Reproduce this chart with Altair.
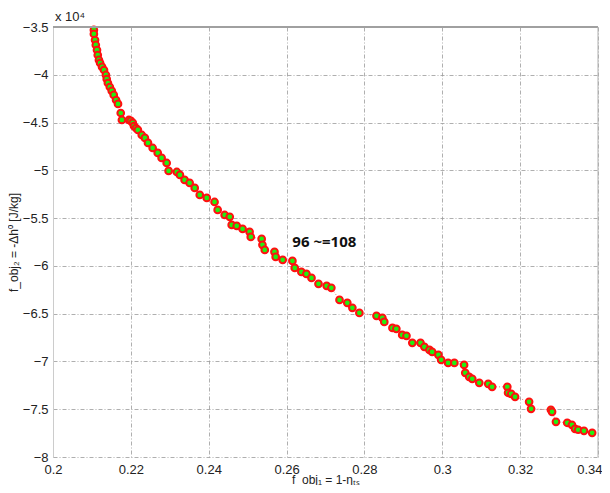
import altair as alt
import pandas as pd

# f_obj1 = 1 - eta_ts
f1 = [0.2105, 0.2105, 0.2108, 0.2110, 0.2113, 0.2115, 0.2118, 0.2121, 0.2126, 0.2131,
      0.2136, 0.2138, 0.2141, 0.2146, 0.2151, 0.2156, 0.2162, 0.2167, 0.2174, 0.2177,
      0.2195, 0.2200, 0.2205, 0.2208, 0.2213, 0.2218, 0.2228, 0.2236, 0.2244, 0.2256,
      0.2269, 0.2279, 0.2292, 0.2297, 0.2318, 0.2326, 0.2338, 0.2351, 0.2364, 0.2377,
      0.2395, 0.2415, 0.2423, 0.2441, 0.2454, 0.2459, 0.2472, 0.2487, 0.2505, 0.2508,
      0.2536, 0.2538, 0.2544, 0.2569, 0.2572, 0.2590, 0.2615, 0.2621, 0.2638, 0.2651,
      0.2664, 0.2682, 0.2703, 0.2715, 0.2736, 0.2756, 0.2769, 0.2787, 0.2831, 0.2846,
      0.2851, 0.2872, 0.2882, 0.2897, 0.2908, 0.2923, 0.2944, 0.2954, 0.2967, 0.2974,
      0.2990, 0.2997, 0.3015, 0.3031, 0.3056, 0.3059, 0.3069, 0.3077, 0.3095, 0.3118,
      0.3128, 0.3167, 0.3169, 0.3177, 0.3187, 0.3223, 0.3228, 0.3279, 0.3282, 0.3292,
      0.3321, 0.3333, 0.3341, 0.3349, 0.3364, 0.3385]
# f_obj2 = -Delta h0, in units of 1e4 J/kg
f2 = [-3.531, -3.573, -3.636, -3.688, -3.741, -3.793, -3.845, -3.877, -3.918, -3.950,
      -4.002, -4.044, -4.086, -4.128, -4.169, -4.211, -4.264, -4.305, -4.400, -4.473,
      -4.473, -4.483, -4.504, -4.536, -4.557, -4.577, -4.630, -4.661, -4.713, -4.766,
      -4.818, -4.870, -4.923, -5.006, -5.017, -5.048, -5.100, -5.132, -5.184, -5.257,
      -5.289, -5.331, -5.414, -5.467, -5.487, -5.571, -5.582, -5.613, -5.644, -5.697,
      -5.718, -5.780, -5.833, -5.854, -5.906, -5.937, -5.948, -6.021, -6.063, -6.084,
      -6.126, -6.188, -6.209, -6.230, -6.356, -6.387, -6.439, -6.492, -6.523, -6.544,
      -6.586, -6.649, -6.659, -6.722, -6.732, -6.805, -6.805, -6.847, -6.879, -6.900,
      -6.931, -6.983, -7.015, -7.015, -7.036, -7.119, -7.161, -7.182, -7.224, -7.234,
      -7.266, -7.266, -7.328, -7.339, -7.370, -7.423, -7.496, -7.506, -7.527, -7.632,
      -7.642, -7.663, -7.705, -7.715, -7.726, -7.747]

x_ticks = [0.2, 0.22, 0.24, 0.26, 0.28, 0.3, 0.32, 0.34]
y_ticks = [-3.5, -4, -4.5, -5, -5.5, -6, -6.5, -7, -7.5, -8]

annot_text = ["96 ~=108"]
annot_x = [0.2697]
annot_y = [-5.75]

df = pd.DataFrame({"f1": f1, "f2": f2, "order": list(range(len(f1)))})
ann = pd.DataFrame({"x": annot_x, "y": annot_y, "t": annot_text})

W, H = 545, 430
FONT = "Liberation Sans"

xs = alt.Scale(domain=[0.2, 0.34], nice=False, zero=False)
ys = alt.Scale(domain=[-8, -3.5], nice=False, zero=False)

last = "datum.value >= 0.339"
xax = alt.Axis(values=x_ticks, title="f_obj₁ = 1-ηₜₛ", format="~g",
               grid=True, gridColor="#9a9a9a", gridDash=[4, 2, 1, 2], gridWidth=0.8,
               domain=False, ticks=False, labelPadding=6, labelFontSize=13,
               labelAlign={"condition": {"test": last, "value": "right"}, "value": "center"},
               labelOffset={"condition": {"test": last, "value": 4}, "value": 0},
               labelFont=FONT, labelColor="#222", titleFont=FONT, titleFontSize=12,
               titleFontWeight="normal", titleColor="#222",
               titleBaseline="alphabetic", titleY=26)
yax = alt.Axis(values=y_ticks, title="f_obj₂ = -Δh⁰ [J/kg]", format="~g",
               grid=True, gridColor="#9a9a9a", gridDash=[4, 2, 1, 2], gridWidth=0.8,
               domain=True, domainColor="#cccccc", ticks=False, labelPadding=5,
               labelFontSize=13, labelFont=FONT, labelColor="#222",
               titleFont=FONT, titleFontSize=12, titleFontWeight="normal",
               titleColor="#222", titlePadding=2)

base = alt.Chart(df)

line = base.mark_line(color="#e05050", strokeWidth=1, strokeDash=[1, 2], opacity=0.8).encode(
    x=alt.X("f1:Q", scale=xs, axis=xax),
    y=alt.Y("f2:Q", scale=ys, axis=yax),
    order="order:Q",
)

pts = base.mark_point(shape="circle", filled=True, fill="#22ee11", stroke="#ff1010",
                      strokeWidth=2, size=45, fillOpacity=1, opacity=1).encode(
    x=alt.X("f1:Q", scale=xs),
    y=alt.Y("f2:Q", scale=ys),
)

text = alt.Chart(ann).mark_text(font="Open Sans", fontWeight="bold", fontSize=15,
                                color="#111").encode(
    x=alt.X("x:Q", scale=xs), y=alt.Y("y:Q", scale=ys), text="t:N")

top_rule = alt.Chart(ann).mark_rule(color="#a0a0a0", strokeWidth=2).encode(
    x=alt.value(0), x2=alt.value(W), y=alt.value(0))
right_rule = alt.Chart(ann).mark_rule(color="#b0b0b0", strokeWidth=1).encode(
    x=alt.value(W), y=alt.value(0), y2=alt.value(H))

exp_text = alt.Chart(ann).mark_text(text="x 10⁴", font=FONT, fontSize=13, color="#222",
                                    align="left", baseline="bottom").encode(
    x=alt.value(2), y=alt.value(-3))

chart = alt.layer(line, pts, text, top_rule, right_rule, exp_text).properties(
    width=W, height=H,
    autosize=alt.AutoSizeParams(type="none"),
    padding={"left": 45, "top": 19, "right": 4, "bottom": 28},
).configure_view(stroke=None)

chart.save("out.html", embed_options={"renderer": "svg", "actions": False})
